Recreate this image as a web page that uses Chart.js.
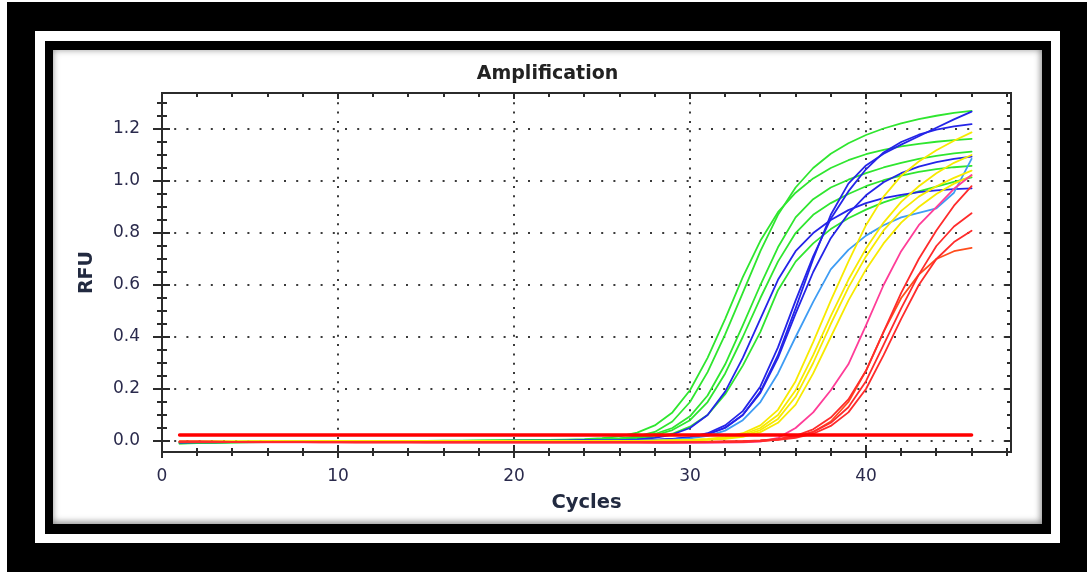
<!DOCTYPE html>
<html>
<head>
<meta charset="utf-8">
<title>Amplification</title>
<script src="https://cdn.jsdelivr.net/npm/chart.js@4/dist/chart.umd.min.js"></script>
<style>
  html, body { margin: 0; padding: 0; }
  body { width: 1087px; height: 572px; position: relative; overflow: hidden; background: #fff; }
  .frame-outer { position: absolute; left: 7px; top: 2px; right: 0; bottom: 0; background: #000; }
  .frame-white { position: absolute; left: 35px; top: 31px; width: 1025px; height: 512px; background: #fff; }
  .frame-inner { position: absolute; left: 45px; top: 41px; width: 1006px; height: 493px; background: #000; }
  .panel {
    position: absolute; left: 53px; top: 50px; width: 989px; height: 474px; background: #fff;
    box-shadow: inset 0 0 7px rgba(0,0,0,0.35), inset -2px -3px 6px rgba(0,0,0,0.22);
  }
  .panel canvas { display: block; position: absolute; left: 0; top: 0; }
</style>
</head>
<body>
<div class="frame-outer"></div>
<div class="frame-white"></div>
<div class="frame-inner"></div>
<div class="panel"><canvas id="amp" width="989" height="474"></canvas></div>
<script>
// Cycle numbers shared by every well trace
const cycles = [1,2,3,4,5,6,7,8,9,10,11,12,13,14,15,16,17,18,19,20,21,22,23,24,25,26,27,28,29,30,31,32,33,34,35,36,37,38,39,40,41,42,43,44,45,46];

// RFU per cycle, green wells
const green1 = [-0.008,-0.006,-0.005,-0.004,-0.004,-0.003,-0.003,-0.002,-0.002,-0.002, -0.001,-0.001,-0.001,0,0,0,0,0.001,0.001,0.001, 0.002,0.002,0.003,0.004,0.006,0.010, 0.018,0.035,0.075,0.15,0.265,0.41,0.57,0.73,0.87,0.975, 1.05,1.105,1.145,1.177,1.202,1.222,1.238,1.251,1.262,1.270];
const green2 = [-0.006,-0.005,-0.004,-0.004,-0.003,-0.003,-0.002,-0.002,-0.002,-0.001, -0.001,-0.001,0,0,0,0.001,0.001,0.001,0.002,0.002, 0.003,0.004,0.005,0.007,0.011,0.018, 0.032,0.06,0.11,0.195,0.32,0.47,0.63,0.77,0.88,0.955, 1.01,1.05,1.08,1.103,1.12,1.133,1.143,1.151,1.157,1.162];
const green3 = [-0.007,-0.006,-0.005,-0.004,-0.004,-0.003,-0.003,-0.002,-0.002,-0.002, -0.001,-0.001,-0.001,0,0,0,0,0.001,0.001,0.001, 0.002,0.002,0.003,0.004,0.006,0.009, 0.015,0.027,0.05,0.095,0.175,0.295,0.445,0.6,0.745,0.86, 0.93,0.975,1.005,1.03,1.052,1.07,1.085,1.097,1.106,1.113];
const green4 = [-0.009,-0.007,-0.006,-0.005,-0.004,-0.004,-0.003,-0.003,-0.002,-0.002, -0.002,-0.001,-0.001,-0.001,0,0,0,0,0.001,0.001, 0.001,0.002,0.002,0.003,0.005,0.008, 0.012,0.022,0.042,0.08,0.15,0.26,0.40,0.55,0.69,0.80, 0.87,0.915,0.95,0.98,1.003,1.021,1.035,1.046,1.053,1.058];
const green5 = [-0.010,-0.008,-0.007,-0.006,-0.005,-0.004,-0.004,-0.003,-0.003,-0.002, -0.002,-0.002,-0.001,-0.001,-0.001,0,0,0,0,0.001, 0.001,0.001,0.002,0.002,0.003,0.005, 0.008,0.015,0.028,0.055,0.10,0.18,0.29,0.42,0.58,0.69, 0.76,0.815,0.857,0.89,0.918,0.94,0.96,0.978,0.997,1.014];

// RFU per cycle, blue wells
const blue1 = [-0.004,-0.004,-0.004,-0.003,-0.003,-0.003,-0.003,-0.002,-0.002,-0.002, -0.002,-0.002,-0.002,-0.001,-0.001,-0.001,-0.001,-0.001,-0.001,0, 0,0,0,0.001,0.001,0.001, 0.002,0.004,0.007,0.013,0.025,0.05,0.10,0.19,0.33,0.51, 0.70,0.87,0.99,1.06,1.105,1.14,1.172,1.205,1.237,1.267];
const blue2 = [-0.005,-0.004,-0.004,-0.004,-0.003,-0.003,-0.003,-0.003,-0.002,-0.002, -0.002,-0.002,-0.002,-0.001,-0.001,-0.001,-0.001,-0.001,0,0, 0,0,0,0.001,0.001,0.001, 0.002,0.004,0.008,0.015,0.03,0.06,0.115,0.21,0.36,0.54, 0.71,0.855,0.96,1.045,1.11,1.15,1.178,1.198,1.21,1.219];
const blue3 = [-0.004,-0.004,-0.003,-0.003,-0.003,-0.003,-0.002,-0.002,-0.002,-0.002, -0.002,-0.002,-0.001,-0.001,-0.001,-0.001,-0.001,0,0,0, 0,0,0.001,0.001,0.001,0.001, 0.002,0.004,0.007,0.013,0.026,0.052,0.10,0.185,0.32,0.49, 0.65,0.78,0.875,0.945,0.995,1.03,1.055,1.073,1.085,1.094];
const blue4 = [-0.006,-0.005,-0.005,-0.004,-0.004,-0.003,-0.003,-0.003,-0.002,-0.002, -0.002,-0.001,-0.001,-0.001,-0.001,0,0,0,0,0.001, 0.001,0.001,0.001,0.002,0.002,0.003, 0.006,0.012,0.025,0.05,0.10,0.19,0.32,0.47,0.62,0.73, 0.80,0.85,0.888,0.915,0.934,0.947,0.957,0.964,0.969,0.972];
const lightBlue1 = [-0.003,-0.003,-0.003,-0.003,-0.002,-0.002,-0.002,-0.002,-0.002,-0.002, -0.001,-0.001,-0.001,-0.001,-0.001,-0.001,0,0,0,0, 0,0,0,0,0.001,0.001, 0.001,0.003,0.005,0.01,0.02,0.04,0.08,0.15,0.26,0.40, 0.535,0.66,0.735,0.79,0.83,0.86,0.877,0.895,0.955,1.085];

// RFU per cycle, yellow wells
const yellow1 = [-0.002,-0.002,-0.002,-0.002,-0.002,-0.002,-0.002,-0.002,-0.001,-0.001, -0.001,-0.001,-0.001,-0.001,-0.001,-0.001,-0.001,0,0,0, 0,0,0,0,0,0, 0,0.001,0.002,0.004,0.008,0.015,0.03,0.06,0.12,0.23, 0.38,0.54,0.69,0.83,0.94,1.02,1.075,1.118,1.155,1.187];
const yellow2 = [-0.003,-0.003,-0.002,-0.002,-0.002,-0.002,-0.002,-0.002,-0.002,-0.001, -0.001,-0.001,-0.001,-0.001,-0.001,-0.001,-0.001,-0.001,0,0, 0,0,0,0,0,0, 0,0.001,0.002,0.003,0.006,0.012,0.025,0.05,0.10,0.195, 0.33,0.48,0.62,0.74,0.84,0.92,0.98,1.03,1.07,1.10];
const yellow3 = [-0.003,-0.003,-0.003,-0.003,-0.002,-0.002,-0.002,-0.002,-0.002,-0.002, -0.002,-0.001,-0.001,-0.001,-0.001,-0.001,-0.001,-0.001,-0.001,0, 0,0,0,0,0,0, 0,0,0.001,0.003,0.005,0.01,0.02,0.042,0.085,0.17, 0.30,0.45,0.59,0.71,0.81,0.885,0.94,0.98,1.012,1.04];
const yellow4 = [-0.004,-0.003,-0.003,-0.003,-0.003,-0.002,-0.002,-0.002,-0.002,-0.002, -0.002,-0.002,-0.001,-0.001,-0.001,-0.001,-0.001,-0.001,-0.001,-0.001, 0,0,0,0,0,0, 0,0,0.001,0.002,0.004,0.008,0.016,0.034,0.07,0.14, 0.26,0.40,0.54,0.66,0.76,0.84,0.90,0.95,0.99,1.02];

// RFU per cycle, pink and red wells
const pink1 = [-0.004,-0.004,-0.004,-0.004,-0.005,-0.005,-0.005,-0.005,-0.005,-0.005, -0.005,-0.005,-0.005,-0.005,-0.006,-0.006,-0.006,-0.006,-0.006,-0.006, -0.006,-0.006,-0.006,-0.006,-0.006,-0.006, -0.006,-0.007,-0.007,-0.007,-0.007,-0.006,-0.005,-0.002,0.012,0.05, 0.11,0.195,0.295,0.445,0.60,0.73,0.83,0.90,0.97,1.023];
const red1 = [-0.002,-0.002,-0.003,-0.003,-0.003,-0.003,-0.003,-0.004,-0.004,-0.004, -0.004,-0.004,-0.004,-0.004,-0.004,-0.004,-0.004,-0.004,-0.004,-0.004, -0.004,-0.004,-0.004,-0.004,-0.004,-0.004, -0.004,-0.004,-0.004,-0.004,-0.003,-0.002,-0.001,0.002,0.008,0.02, 0.045,0.09,0.16,0.27,0.42,0.57,0.70,0.81,0.905,0.98];
const red2 = [-0.003,-0.003,-0.003,-0.003,-0.004,-0.004,-0.004,-0.004,-0.004,-0.004, -0.005,-0.005,-0.005,-0.005,-0.005,-0.005,-0.005,-0.005,-0.005,-0.005, -0.005,-0.005,-0.005,-0.005,-0.005,-0.005, -0.005,-0.005,-0.005,-0.004,-0.004,-0.003,-0.002,0.001,0.006,0.016, 0.035,0.07,0.13,0.23,0.37,0.51,0.64,0.75,0.825,0.876];
const red3 = [-0.003,-0.003,-0.003,-0.004,-0.004,-0.004,-0.004,-0.004,-0.005,-0.005, -0.005,-0.005,-0.005,-0.005,-0.005,-0.005,-0.005,-0.005,-0.005,-0.005, -0.005,-0.005,-0.005,-0.005,-0.005,-0.005, -0.005,-0.005,-0.005,-0.005,-0.004,-0.004,-0.003,0,0.004,0.012, 0.028,0.058,0.11,0.20,0.33,0.47,0.60,0.70,0.765,0.809];
const orangeRed1 = [-0.002,-0.002,-0.002,-0.003,-0.003,-0.003,-0.003,-0.003,-0.003,-0.004, -0.004,-0.004,-0.004,-0.004,-0.004,-0.004,-0.004,-0.004,-0.004,-0.004, -0.004,-0.004,-0.004,-0.004,-0.004,-0.004, -0.004,-0.004,-0.004,-0.004,-0.003,-0.002,-0.001,0.001,0.005,0.015, 0.035,0.075,0.15,0.27,0.42,0.55,0.64,0.70,0.73,0.743];

// Threshold line
const thresholdCycles = [1, 46];
const thresholdRFU = [0.023, 0.023];

// Axis ticks and their labels
const xTickValues = [0, 10, 20, 30, 40];
const xTickLabels = ['0', '10', '20', '30', '40'];
const yTickValues = [0, 0.2, 0.4, 0.6, 0.8, 1.0, 1.2];
const yTickLabels = ['0.0', '0.2', '0.4', '0.6', '0.8', '1.0', '1.2'];

const COLORS = {
  green: '#2fe62f',
  blue: '#2424e8',
  lightBlue: '#3e9cf4',
  yellow: '#f7ea00',
  pink: '#ff3d98',
  red: '#ff2b2b',
  orangeRed: '#ff4d1c',
  threshold: '#ff0000'
};

const traces = [
  [red1, COLORS.red], [red2, COLORS.red], [red3, COLORS.red], [orangeRed1, COLORS.orangeRed],
  [pink1, COLORS.pink],
  [yellow1, COLORS.yellow], [yellow2, COLORS.yellow], [yellow3, COLORS.yellow], [yellow4, COLORS.yellow],
  [lightBlue1, COLORS.lightBlue],
  [blue1, COLORS.blue], [blue2, COLORS.blue], [blue3, COLORS.blue], [blue4, COLORS.blue],
  [green1, COLORS.green], [green2, COLORS.green], [green3, COLORS.green], [green4, COLORS.green], [green5, COLORS.green]
];

const datasets = [{
  data: thresholdCycles.map((c, i) => ({ x: c, y: thresholdRFU[i] })),
  borderColor: COLORS.threshold,
  borderWidth: 3.5
}].concat(traces.map(([vals, color]) => ({
  data: cycles.map((c, i) => ({ x: c, y: vals[i] })),
  borderColor: color,
  borderWidth: 1.8
})));

const FONT = 'DejaVu Sans';
const TICK_COLOR = '#2a2a4c';
const AXIS_TITLE_COLOR = '#222a40';
const X_MIN = 0, X_MAX = 48.24, X_MINOR = 2;
const Y_MIN = -0.0423, Y_MAX = 1.3385, Y_MINOR = 0.05;

// Box round the plot with crossing tick marks on all four sides
const axisFrame = {
  id: 'axisFrame',
  afterDraw(chart) {
    const { ctx, chartArea: a, scales: { x, y } } = chart;
    ctx.save();
    ctx.strokeStyle = '#2b2b2b';
    ctx.lineWidth = 2;
    ctx.strokeRect(a.left, a.top, a.right - a.left, a.bottom - a.top);
    ctx.beginPath();
    for (let c = 0; c <= X_MAX; c += X_MINOR) {
      const px = Math.round(x.getPixelForValue(c));
      const major = c % 10 === 0;
      ctx.moveTo(px, a.bottom + (major ? 6 : 4));
      ctx.lineTo(px, a.bottom - (major ? 7 : 4));
      ctx.moveTo(px, a.top);
      ctx.lineTo(px, a.top + (major ? 6 : 4));
    }
    for (let i = 0; i * Y_MINOR <= Y_MAX; i++) {
      const py = Math.round(y.getPixelForValue(i * Y_MINOR));
      const major = i % 4 === 0;
      ctx.moveTo(a.left - (major ? 9 : 5), py);
      ctx.lineTo(a.left + (major ? 8 : 5), py);
      ctx.moveTo(a.right, py);
      ctx.lineTo(a.right - (major ? 6 : 4), py);
    }
    ctx.stroke();
    ctx.restore();
  }
};

new Chart(document.getElementById('amp'), {
  type: 'line',
  data: { datasets },
  options: {
    responsive: false,
    animation: false,
    devicePixelRatio: 1,
    elements: {
      point: { radius: 0 },
      line: { tension: 0, fill: false, borderCapStyle: 'round', borderJoinStyle: 'round' }
    },
    layout: { padding: 0 },
    plugins: {
      legend: { display: false },
      tooltip: { enabled: false },
      title: {
        display: true,
        text: 'Amplification',
        color: '#222',
        font: { family: FONT, size: 19, weight: 'bold' },
        padding: { top: 13, bottom: 7.2 }
      }
    },
    scales: {
      x: {
        type: 'linear',
        min: X_MIN,
        max: X_MAX,
        afterBuildTicks: s => { s.ticks = xTickValues.map(v => ({ value: v })); },
        afterFit: s => { s.height = 72; },
        grid: { color: '#3a3a3a', lineWidth: 2, drawTicks: false },
        border: { display: false, dash: [2, 7.3] },
        ticks: {
          padding: 14,
          color: TICK_COLOR,
          font: { family: FONT, size: 17 },
          callback: (v, i) => xTickLabels[i]
        },
        title: {
          display: true,
          text: 'Cycles',
          color: AXIS_TITLE_COLOR,
          font: { family: FONT, size: 19.5, weight: 'bold' },
          padding: { top: 0, bottom: 9 }
        }
      },
      y: {
        type: 'linear',
        position: 'left',
        min: Y_MIN,
        max: Y_MAX,
        afterBuildTicks: s => { s.ticks = yTickValues.map(v => ({ value: v })); },
        afterFit: s => { s.width = 109; },
        grid: { color: '#3a3a3a', lineWidth: 2, drawTicks: false },
        border: { display: false, dash: [2, 10.2] },
        ticks: {
          padding: 22,
          color: TICK_COLOR,
          font: { family: FONT, size: 17 },
          callback: (v, i) => yTickLabels[i]
        },
        title: {
          display: true,
          text: 'RFU',
          color: AXIS_TITLE_COLOR,
          font: { family: FONT, size: 19, weight: 'bold' },
          padding: { top: 22.5, bottom: 0 }
        }
      },
      // empty right-hand margin so the title stays centred on the whole panel
      yRight: {
        type: 'linear',
        position: 'right',
        display: true,
        afterFit: s => { s.width = 31; },
        grid: { display: false },
        border: { display: false },
        ticks: { display: false }
      }
    }
  },
  plugins: [axisFrame]
});
</script>
</body>
</html>
